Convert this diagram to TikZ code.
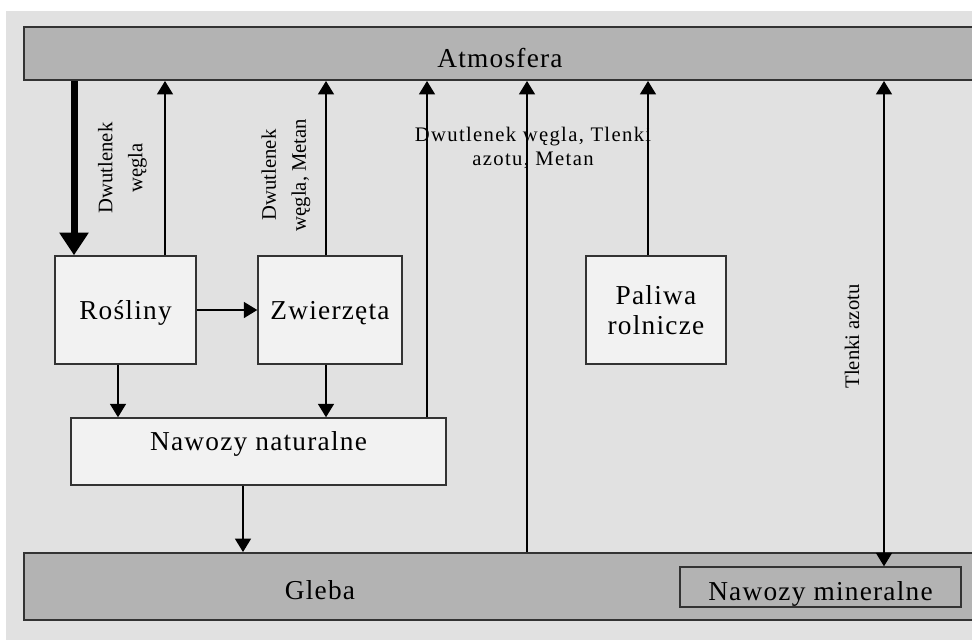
\documentclass[tikz,border=0pt]{standalone}
\usepackage{fontspec}
\setmainfont{Liberation Serif}
\newfontfamily\szeroki[LetterSpace=4.5]{Liberation Serif}
\newfontfamily\srodek[LetterSpace=6.5]{Liberation Serif}
\usetikzlibrary{arrows.meta}

\definecolor{tlo}{HTML}{E1E1E1}
\definecolor{pas}{HTML}{B3B3B3}
\definecolor{pole}{HTML}{F2F2F2}
\definecolor{ramka}{HTML}{333333}

\def \duzy {\fontsize{20.5}{22.5}\selectfont\szeroki}
\def \maly {\fontsize{15.5}{22.5}\selectfont}

\tikzset{
  pasek/.style={draw=ramka, line width=1.5pt, fill=pas, inner sep=0pt, font=\duzy},
  pudlo/.style={draw=ramka, line width=1.1pt, fill=pole, inner sep=0pt, font=\duzy},
  grot/.tip={Triangle[length=10pt,width=12pt]},
  strz/.style={line width=0.9pt, -grot},
  opis/.style={font=\maly, align=center, rotate=90}
}

\begin{document}
\begin{tikzpicture}[x=0.75pt, y=-0.75pt]
      \useasboundingbox (0,0) rectangle (972,640);
      \clip (0,0) rectangle (972,640);
      %tlo
      \fill[white] (0,0) rectangle (972,640);
      \fill[tlo] (6,11) rectangle (972,640);
      %paski
      \node[pasek, minimum width=714pt, text height=30pt, text depth=9.75pt] (atm) at (500,53.5) {Atmosfera};
      \node[pasek, minimum width=714pt, minimum height=50.25pt] (gleba) at (500,586.5) {};
      \node[font=\duzy, anchor=base] (gl) at (320,599) {Gleba};
      \node[pasek, line width=1.1pt, minimum width=210.75pt, text height=24.75pt, text depth=5.25pt] (miner) at (820.5,587) {Nawozy mineralne};
      %bloki
      \node[pudlo, minimum width=105.75pt, text height=47.25pt, text depth=33.75pt] (ros) at (125.5,310) {Rośliny};
      \node[pudlo, minimum width=108pt, text height=47.25pt, text depth=33.75pt] (zw) at (330,310) {Zwierzęta};
      \node[pudlo, align=center, minimum width=105pt, minimum height=81pt] (pal) at (656,310) {Paliwa\\rolnicze};
      \node[pudlo, minimum width=281.25pt, text height=24.4pt, text depth=25.9pt] (nat) at (258.5,451.5) {Nawozy naturalne};
      %osie strzalek
      \coordinate (a) at (74,0); \coordinate (b) at (165,0); \coordinate (c) at (118,0);
      \coordinate (d) at (326,0); \coordinate (e) at (427,0); \coordinate (f) at (243,0);
      \coordinate (g) at (527,0); \coordinate (h) at (648,0); \coordinate (i) at (884,0);
      %strzalki
      \draw[line width=5.25pt, -{Triangle[length=17pt,width=21pt]}] (atm.south -| a) -- (ros.north -| a);
      \draw[strz] (ros.north -| b) -- (atm.south -| b);
      \draw[strz] (zw.north -| d) -- (atm.south -| d);
      \draw[strz] (ros.east) -- (zw.west);
      \draw[strz] (ros.south -| c) -- (nat.north -| c);
      \draw[strz] (zw.south -| d) -- (nat.north -| d);
      \draw[strz] (nat.north -| e) -- (atm.south -| e);
      \draw[strz] (nat.south -| f) -- (gleba.north -| f);
      \draw[strz] (gleba.north -| g) -- (atm.south -| g);
      \draw[strz] (pal.north -| h) -- (atm.south -| h);
      \draw[strz, grot-grot] (atm.south -| i) -- (miner.north -| i);
      %opisy
      \node[opis] (o1) at (122.5,168) {Dwutlenek\\węgla};
      \node[opis] (o2) at (286,175) {Dwutlenek\\węgla, Metan};
      \node[opis] (o3) at (852,336.5) {Tlenki azotu};
      \node[font={\fontsize{15.5}{17.5}\selectfont\srodek}, align=center] (o4) at (533,148) {Dwutlenek węgla, Tlenki\\azotu, Metan};
\end{tikzpicture}
\end{document}
